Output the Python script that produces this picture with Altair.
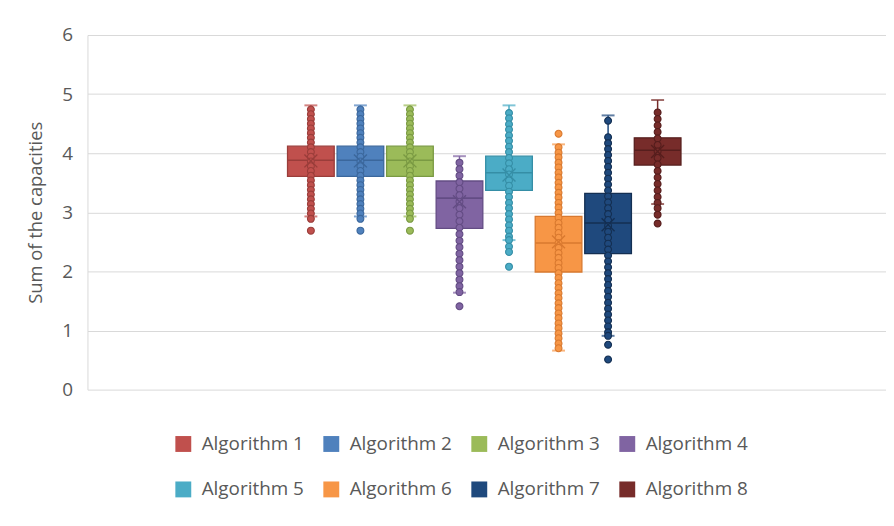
import altair as alt
import pandas as pd

algos = ["Algorithm 1", "Algorithm 2", "Algorithm 3", "Algorithm 4",
         "Algorithm 5", "Algorithm 6", "Algorithm 7", "Algorithm 8"]
fills = ["#C0504D", "#4F81BD", "#9BBB59", "#8064A2",
         "#4BACC6", "#F79646", "#1F497D", "#772C2A"]
strokes = ["#9a3d3a", "#3b679c", "#7a9a43", "#634c84",
           "#358ea6", "#d9792f", "#142f52", "#561e1d"]

q1 = [3.61, 3.61, 3.61, 2.73, 3.37, 1.99, 2.30, 3.80]
median = [3.88, 3.88, 3.88, 3.24, 3.67, 2.48, 2.82, 4.05]
q3 = [4.12, 4.12, 4.12, 3.53, 3.95, 2.93, 3.32, 4.26]
mean = [3.87, 3.87, 3.87, 3.18, 3.63, 2.50, 2.79, 4.03]
whisk_lo = [2.93, 2.93, 2.93, 1.64, 2.53, 0.66, 0.91, 3.14]
whisk_hi = [4.81, 4.81, 4.81, 3.95, 4.81, 4.15, 4.64, 4.90]

pts1 = [4.74, 4.66, 4.58, 4.50, 4.42, 4.34, 4.26, 4.18, 4.10, 4.02, 3.94, 3.86,
        3.78, 3.70, 3.62, 3.54, 3.46, 3.38, 3.30, 3.22, 3.14, 3.06, 2.98, 2.89, 2.69]
pts2 = [4.74, 4.66, 4.58, 4.50, 4.42, 4.34, 4.26, 4.18, 4.10, 4.02, 3.94, 3.86,
        3.78, 3.70, 3.62, 3.54, 3.46, 3.38, 3.30, 3.22, 3.14, 3.06, 2.98, 2.89, 2.69]
pts3 = [4.74, 4.66, 4.58, 4.50, 4.42, 4.34, 4.26, 4.18, 4.10, 4.02, 3.94, 3.86,
        3.78, 3.70, 3.62, 3.54, 3.46, 3.38, 3.30, 3.22, 3.14, 3.06, 2.98, 2.89, 2.69]
pts4 = [3.84, 3.73, 3.62, 3.51, 3.40, 3.29, 3.18, 3.07, 2.96, 2.85, 2.74, 2.63,
        2.52, 2.41, 2.30, 2.19, 2.08, 1.97, 1.86, 1.75, 1.65, 1.41]
pts5 = [4.68, 4.59, 4.49, 4.40, 4.30, 4.21, 4.11, 4.02, 3.92, 3.83, 3.73, 3.64,
        3.54, 3.45, 3.35, 3.26, 3.16, 3.07, 2.97, 2.88, 2.78, 2.69, 2.59, 2.53,
        2.42, 2.33, 2.08]
pts6 = [4.33, 4.10, 4.01, 3.93, 3.84, 3.76, 3.67, 3.59, 3.50, 3.42, 3.33, 3.25,
        3.16, 3.08, 2.99, 2.91, 2.82, 2.74, 2.65, 2.57, 2.48, 2.40, 2.31, 2.23,
        2.14, 2.06, 1.97, 1.89, 1.80, 1.72, 1.63, 1.55, 1.46, 1.38, 1.29, 1.21,
        1.12, 1.04, 0.95, 0.87, 0.78, 0.70]
pts7 = [4.55, 4.27, 4.17, 4.07, 3.97, 3.87, 3.77, 3.67, 3.57, 3.47, 3.37, 3.27,
        3.17, 3.07, 2.97, 2.87, 2.77, 2.67, 2.57, 2.47, 2.37, 2.27, 2.17, 2.07,
        1.97, 1.87, 1.77, 1.67, 1.57, 1.47, 1.37, 1.27, 1.17, 1.07, 0.97, 0.91,
        0.76, 0.51]
pts8 = [4.69, 4.58, 4.47, 4.36, 4.25, 4.14, 4.03, 3.92, 3.81, 3.70, 3.59, 3.48,
        3.37, 3.26, 3.16, 3.07, 2.96, 2.81]
points = [pts1, pts2, pts3, pts4, pts5, pts6, pts7, pts8]

summary = pd.DataFrame({
    "Algorithm": algos, "idx": list(range(1, len(algos) + 1)),
    "q1": q1, "median": median, "q3": q3,
    "mean": mean, "lo": whisk_lo, "hi": whisk_hi,
})
pts = pd.DataFrame(
    [{"Algorithm": a, "idx": i + 1, "value": v}
     for i, (a, vals) in enumerate(zip(algos, points)) for v in vals]
)

font = "Open Sans"
grey = "#595959"

x = alt.X("idx:Q", axis=None, scale=alt.Scale(domain=[-3.41, 12.51], nice=False,
                                              zero=False))
yscale = alt.Scale(domain=[0, 6], nice=False)
fill_scale = alt.Scale(domain=algos, range=fills)
stroke_scale = alt.Scale(domain=algos, range=strokes)

yaxis = alt.Axis(values=[0, 1, 2, 3, 4, 5, 6], format="d", grid=True,
                 gridColor="#d9d9d9", domainColor="#d9d9d9", ticks=False,
                 labelFontSize=19, labelColor=grey, labelPadding=15,
                 labelFont=font, title="Sum of the capacities",
                 titleFontSize=18.5, titleColor=grey, titleFontWeight="normal",
                 titleFont=font, titlePadding=16)

base = alt.Chart(summary).encode(x=x)

whisker = base.mark_rule(strokeWidth=1.5).encode(
    y=alt.Y("lo:Q", scale=yscale, axis=yaxis),
    y2="hi:Q",
    stroke=alt.Stroke("Algorithm:N", scale=fill_scale, legend=None),
)
caps_lo = base.mark_tick(orient="horizontal", size=13, thickness=2).encode(
    y=alt.Y("lo:Q"),
    color=alt.Color("Algorithm:N", scale=fill_scale, legend=None),
)
caps_hi = base.mark_tick(orient="horizontal", size=13, thickness=2).encode(
    y=alt.Y("hi:Q"),
    color=alt.Color("Algorithm:N", scale=fill_scale, legend=None),
)
box = base.mark_bar(size=47, strokeWidth=1.2).encode(
    y=alt.Y("q1:Q"),
    y2="q3:Q",
    fill=alt.Fill("Algorithm:N", scale=fill_scale,
                  legend=alt.Legend(title=None)),
)
box_edge = base.mark_bar(size=47, strokeWidth=1.3, filled=False,
                         fillOpacity=0).encode(
    y=alt.Y("q1:Q"),
    y2="q3:Q",
    stroke=alt.Stroke("Algorithm:N", scale=stroke_scale, legend=None),
)
med = base.mark_tick(orient="horizontal", size=47, thickness=1.6,
                     opacity=1).encode(
    y=alt.Y("median:Q"),
    color=alt.Color("Algorithm:N", scale=stroke_scale, legend=None),
)
dots = alt.Chart(pts).mark_circle(size=48, strokeWidth=1.1, opacity=1).encode(
    x=x,
    y=alt.Y("value:Q"),
    fill=alt.Fill("Algorithm:N", scale=fill_scale),
    stroke=alt.Stroke("Algorithm:N", scale=stroke_scale, legend=None),
)
meanx = base.mark_point(shape="M-1,-1L1,1M-1,1L1,-1", size=170, filled=False,
                        strokeWidth=1.4, opacity=1).encode(
    y=alt.Y("mean:Q"),
    stroke=alt.Stroke("Algorithm:N", scale=stroke_scale, legend=None),
)

chart = alt.layer(whisker, caps_lo, caps_hi, box, box_edge, med, dots,
                  meanx).resolve_scale(
    color="independent", stroke="independent"
).properties(
    width=804, height=357,
    autosize=alt.AutoSizeParams(type="none"),
    padding={"left": 80, "top": 25.5, "right": 0, "bottom": 120},
).configure_view(stroke=None).configure_legend(
    orient="none", legendX=87, legendY=402, direction="horizontal", columns=4,
    symbolType="square", symbolSize=256, symbolStrokeWidth=0,
    labelFontSize=19, labelColor=grey, labelFont=font, labelOffset=9,
    columnPadding=18, rowPadding=26, padding=0, symbolOpacity=1,
)

chart.save("out.html", embed_options={"renderer": "svg", "actions": False})
